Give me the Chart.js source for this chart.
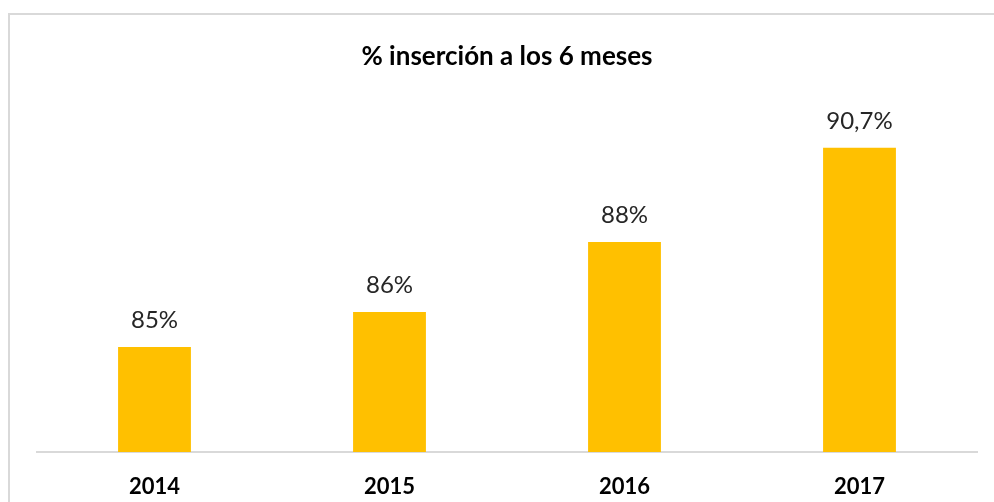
<!DOCTYPE html>
<html>
<head>
<meta charset="utf-8">
<script src="https://cdn.jsdelivr.net/npm/chart.js@4.4.0/dist/chart.umd.min.js"></script>
<style>
  html, body { margin: 0; padding: 0; background: #ffffff; }
  #wrap { position: relative; width: 994px; height: 502px; }
</style>
</head>
<body>
<div id="wrap"><canvas id="insercion-chart" width="994" height="502"></canvas></div>
<script>
// data
const years = ['2014', '2015', '2016', '2017'];
const insercion = [85, 86, 88, 90.7];
const valueLabels = ['85%', '86%', '88%', '90,7%'];

const FONT = 'Lato, "Open Sans", sans-serif';

// light grey frame round the whole chart, like the office export
const framePlugin = {
    id: 'frame',
    beforeDraw(chart) {
        const ctx = chart.ctx;
        ctx.save();
        ctx.strokeStyle = '#D9D9D9';
        ctx.lineWidth = 2;
        ctx.strokeRect(9, 14, chart.width + 20, chart.height + 20);
        ctx.restore();
    }
};

// value labels above each bar
const valueLabelPlugin = {
    id: 'valueLabels',
    afterDatasetsDraw(chart) {
        const ctx = chart.ctx;
        const meta = chart.getDatasetMeta(0);
        ctx.save();
        ctx.font = '24px ' + FONT;
        ctx.fillStyle = '#262626';
        ctx.textAlign = 'center';
        ctx.textBaseline = 'alphabetic';
        meta.data.forEach((bar, i) => {
            ctx.fillText(valueLabels[i], bar.x, bar.y - 19);
        });
        ctx.restore();
    }
};

const ctx = document.getElementById('insercion-chart');
new Chart(ctx, {
    type: 'bar',
    data: {
        labels: years,
        datasets: [{
            data: insercion,
            backgroundColor: '#FFC000',
            categoryPercentage: 1,
            barPercentage: 0.31
        }]
    },
    options: {
        responsive: false,
        animation: false,
        layout: {
            padding: { left: 37, right: 17, top: 0, bottom: 0 }
        },
        plugins: {
            legend: { display: false },
            tooltip: { enabled: false },
            title: {
                display: true,
                text: '% inserción a los 6 meses',
                color: '#000000',
                font: { family: FONT, size: 26, weight: 'bold', lineHeight: 1.2 },
                padding: { top: 41, bottom: 30 }
            }
        },
        scales: {
            x: {
                grid: { display: false, drawTicks: false },
                border: { display: true, color: '#D9D9D9', width: 2 },
                ticks: {
                    color: '#000000',
                    padding: 22,
                    font: { family: FONT, size: 22, weight: 'bold' }
                },
                // fixed band under the axis line for the year labels
                afterFit(scale) {
                    scale.height = 50;
                }
            },
            y: {
                display: false,
                min: 82,
                max: 92
            }
        }
    },
    plugins: [framePlugin, valueLabelPlugin]
});
</script>
</body>
</html>
